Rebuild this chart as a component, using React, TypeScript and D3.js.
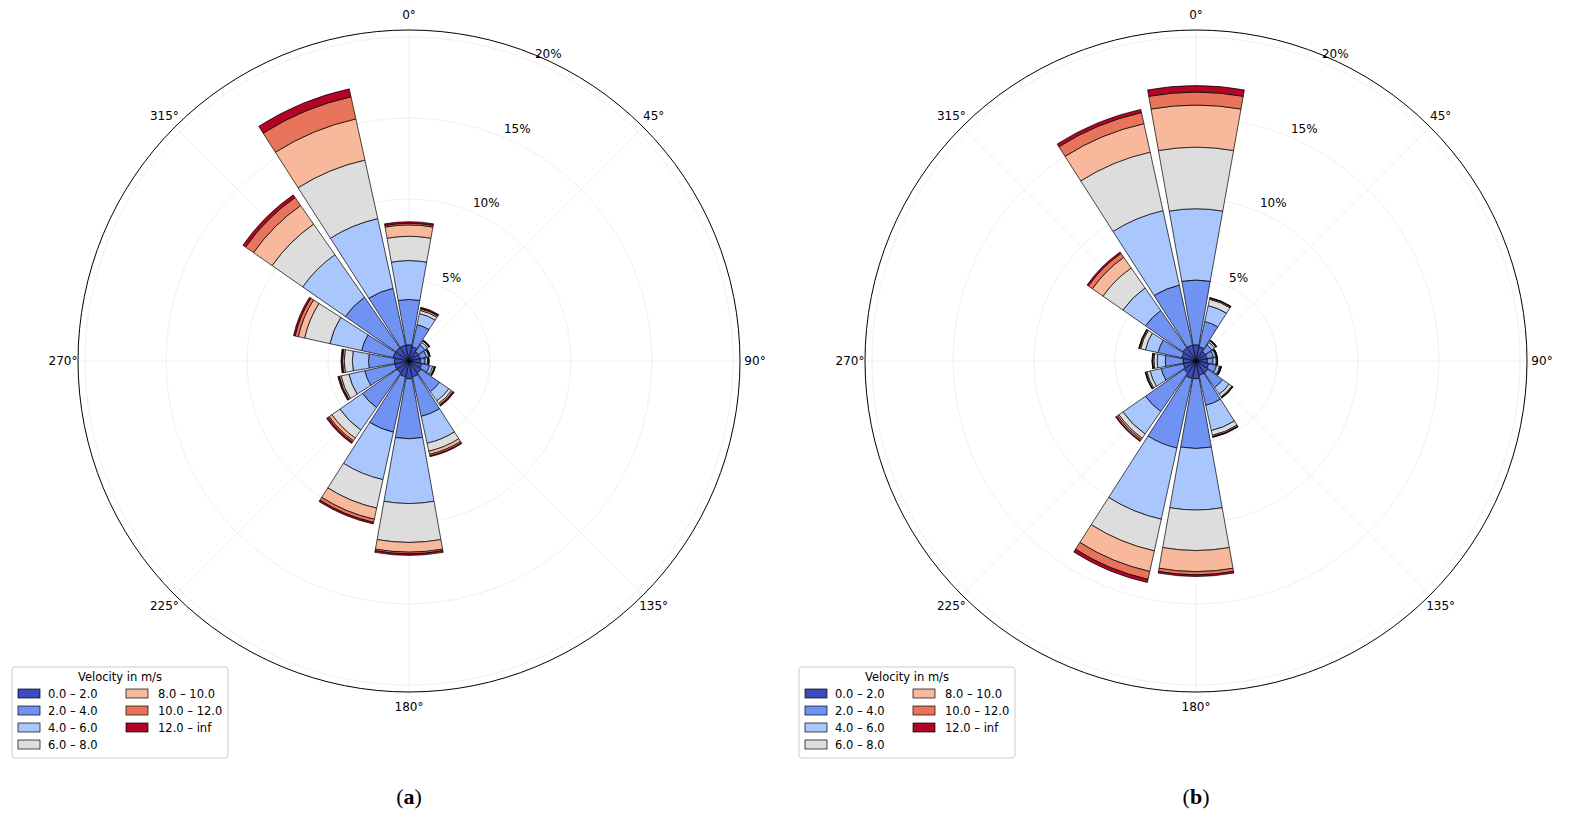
import * as d3 from 'd3';

const directions = [0, 22.5, 45, 67.5, 90, 112.5, 135, 157.5, 180, 202.5, 225, 247.5, 270, 292.5, 315, 337.5];
const bins = ['0.0 – 2.0', '2.0 – 4.0', '4.0 – 6.0', '6.0 – 8.0', '8.0 – 10.0', '10.0 – 12.0', '12.0 – inf'];
const binColors = ['#3b4cc0', '#7093f3', '#aac7fd', '#dddddd', '#f7b89c', '#e7745b', '#b40426'];
const ringTicks = [5, 10, 15, 20];
const angleTicks = [0, 45, 90, 135, 180, 225, 270, 315];

// frequency (%) per direction, per velocity bin
const freqA: number[][] = [
  [1.0, 2.8, 2.4, 1.5, 0.7, 0.1, 0.1],
  [0.9, 1.4, 0.7, 0.2, 0.1, 0.05, 0.05],
  [0.7, 0.5, 0.2, 0.1, 0.03, 0.02, 0.02],
  [0.7, 0.4, 0.15, 0.05, 0.02, 0.01, 0.01],
  [0.7, 0.3, 0.15, 0.05, 0.02, 0.01, 0.01],
  [0.8, 0.5, 0.2, 0.1, 0.03, 0.02, 0.02],
  [0.9, 1.4, 0.7, 0.2, 0.1, 0.05, 0.05],
  [1.0, 2.5, 1.7, 0.5, 0.2, 0.1, 0.05],
  [1.1, 3.7, 4.0, 2.4, 0.6, 0.1, 0.1],
  [1.0, 3.5, 3.0, 1.8, 0.7, 0.2, 0.1],
  [0.9, 2.6, 1.7, 0.6, 0.2, 0.1, 0.1],
  [0.9, 1.9, 1.0, 0.5, 0.1, 0.05, 0.05],
  [0.9, 1.6, 1.0, 0.5, 0.1, 0.05, 0.05],
  [1.0, 2.0, 2.0, 1.6, 0.4, 0.2, 0.1],
  [1.0, 3.8, 3.2, 2.3, 1.4, 0.6, 0.2],
  [1.0, 3.6, 4.4, 3.7, 2.6, 1.4, 0.5],
];
const freqB: number[][] = [
  [1.0, 4.0, 4.4, 3.8, 2.6, 0.8, 0.4],
  [0.9, 1.6, 1.0, 0.4, 0.07, 0.02, 0.02],
  [0.7, 0.5, 0.2, 0.1, 0.03, 0.02, 0.02],
  [0.7, 0.4, 0.15, 0.05, 0.02, 0.01, 0.01],
  [0.7, 0.35, 0.2, 0.05, 0.02, 0.01, 0.01],
  [0.8, 0.5, 0.2, 0.05, 0.03, 0.02, 0.02],
  [0.9, 1.1, 0.5, 0.2, 0.05, 0.02, 0.02],
  [0.9, 1.9, 1.6, 0.3, 0.08, 0.03, 0.02],
  [1.1, 4.3, 3.8, 2.5, 1.3, 0.2, 0.1],
  [1.1, 4.4, 4.5, 2.0, 1.3, 0.5, 0.2],
  [0.9, 2.9, 1.7, 0.3, 0.1, 0.1, 0.05],
  [0.8, 1.4, 0.7, 0.2, 0.07, 0.03, 0.02],
  [0.8, 1.1, 0.5, 0.2, 0.07, 0.03, 0.02],
  [0.9, 1.5, 0.8, 0.3, 0.07, 0.03, 0.02],
  [1.0, 2.8, 1.7, 1.5, 0.8, 0.3, 0.1],
  [1.0, 3.8, 4.7, 3.7, 1.8, 0.7, 0.2],
];

const FONT = '"DejaVu Sans", sans-serif';
const R = 331;
const rScale = d3.scaleLinear().domain([0, 20]).range([0, 324]);
const toRad = (deg: number) => (deg * Math.PI) / 180;
const halfW = toRad(22.5 * 0.45);

function Rose({ cx, cy, data, caption }: { cx: number; cy: number; data: number[][]; caption: string }) {
  const arc = d3.arc<any>();
  const wedges: { d: string; color: string }[] = [];
  data.forEach((row, i) => {
    const a = toRad(directions[i]);
    let acc = 0;
    row.forEach((v, b) => {
      const d = arc({ innerRadius: rScale(acc), outerRadius: rScale(acc + v), startAngle: a - halfW, endAngle: a + halfW }) || '';
      wedges.push({ d, color: binColors[b] });
      acc += v;
    });
  });
  const legX = cx - 397, legY = 667;
  return (
    <g>
      <g transform={`translate(${cx},${cy})`}>
        {d3.range(0, 360, 45).map((a) => (
          <line key={a} x1={0} y1={0} x2={R * Math.sin(toRad(a))} y2={-R * Math.cos(toRad(a))} stroke="#ebebeb" strokeWidth={0.8} />
        ))}
        {ringTicks.map((t) => (
          <circle key={t} r={rScale(t)} fill="none" stroke="#ebebeb" strokeWidth={0.8} />
        ))}
        {wedges.map((w, i) => (
          <path key={i} d={w.d} fill={w.color} stroke="#000" strokeWidth={0.7} />
        ))}
        {ringTicks.map((t) => (
          <text key={t} x={rScale(t) * Math.sin(toRad(22.5)) + 2} y={-rScale(t) * Math.cos(toRad(22.5)) - 4}
            fontSize={12} fontFamily={FONT} fill="#000">{t}%</text>
        ))}
        <circle r={R} fill="none" stroke="#000" strokeWidth={1} />
        {angleTicks.map((a) => (
          <text key={a} x={346 * Math.sin(toRad(a))} y={-346 * Math.cos(toRad(a))} textAnchor="middle" dominantBaseline="central"
            fontSize={12} fontFamily={FONT}>{a}°</text>
        ))}
      </g>
      <g transform={`translate(${legX},${legY})`}>
        <rect x={0} y={0} width={216} height={91} rx={3} fill="#fff" stroke="#cccccc" />
        <text x={108} y={14} textAnchor="middle" fontSize={11.5} fontFamily={FONT}>Velocity in m/s</text>
        {bins.map((b, i) => {
          const col = i < 4 ? 0 : 1;
          const row = i < 4 ? i : i - 4;
          const x = 6 + col * 108, y = 22 + row * 17;
          return (
            <g key={b} transform={`translate(${x},${y})`}>
              <rect x={0} y={0} width={22} height={9} fill={binColors[i]} stroke="#000" strokeWidth={0.7} />
              <text x={col ? 32 : 30} y={9} fontSize={11.5} fontFamily={FONT}>{b}</text>
            </g>
          );
        })}
      </g>
      <text x={cx} y={804} textAnchor="middle" fontSize={22} fontFamily='"Liberation Serif", serif'>
        (<tspan fontWeight="bold">{caption}</tspan>)
      </text>
    </g>
  );
}

export default function App() {
  return (
    <svg width={1579} height={825} style={{ position: 'absolute', left: 0, top: 0, background: '#fff' }}>
      <Rose cx={409} cy={361} data={freqA} caption="a" />
      <Rose cx={1196} cy={361} data={freqB} caption="b" />
    </svg>
  );
}
